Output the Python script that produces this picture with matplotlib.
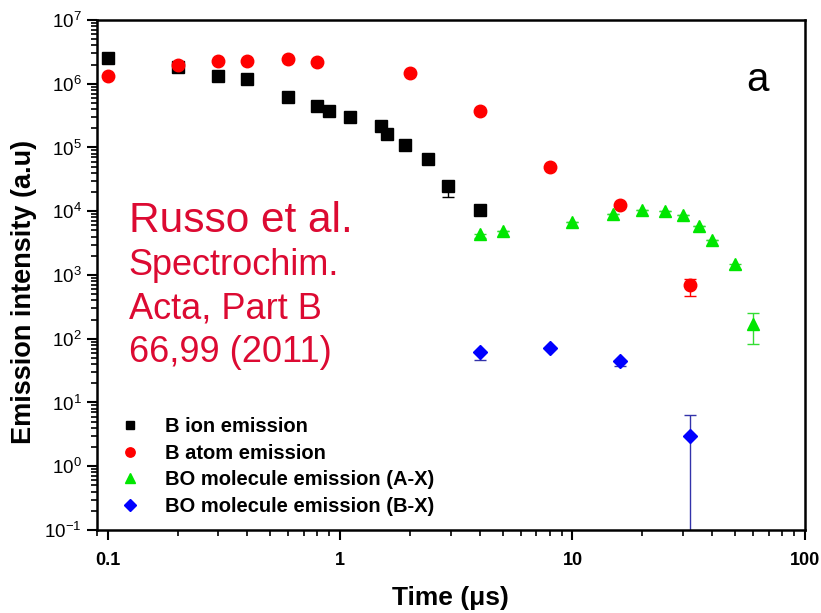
import matplotlib
matplotlib.use("Agg")
import matplotlib.pyplot as plt
from matplotlib.lines import Line2D
import numpy as np

plt.rcParams['font.family'] = ['Liberation Sans', 'DejaVu Sans']
plt.rcParams['mathtext.fontset'] = 'custom'
plt.rcParams['mathtext.rm'] = 'Liberation Sans'
plt.rcParams['mathtext.it'] = 'Liberation Sans:italic'
plt.rcParams['mathtext.bf'] = 'Liberation Sans:bold'
plt.rcParams['axes.unicode_minus'] = False

# B ion emission
ion_t = [0.1, 0.2, 0.3, 0.4, 0.6, 0.8, 0.9, 1.1, 1.5, 1.6, 1.9, 2.4, 2.9, 4.0]
ion_i = [2.5e6, 1.85e6, 1.3e6, 1.18e6, 6.3e5, 4.4e5, 3.8e5, 3.0e5, 2.15e5, 1.6e5,
         1.08e5, 6.6e4, 2.5e4, 1.05e4]
ion_lo = [0, 0, 0, 0, 0, 0, 0, 0, 0, 0, 0, 0, 8e3, 0]
ion_hi = [0, 0, 0, 0, 0, 0, 0, 0, 0, 0, 0, 0, 2e3, 0]

# B atom emission
atom_t = [0.1, 0.2, 0.3, 0.4, 0.6, 0.8, 2.0, 4.0, 8.0, 16.0, 32.0]
atom_i = [1.3e6, 2.0e6, 2.25e6, 2.3e6, 2.4e6, 2.2e6, 1.45e6, 3.7e5, 4.9e4, 1.24e4, 690]
atom_lo = [0, 0, 0, 0, 0, 0, 0, 0, 0, 0, 230]
atom_hi = [0, 0, 0, 0, 0, 0, 0, 0, 0, 0, 190]

# BO molecule emission (A-X)
ax_t = [4.0, 5.0, 10.0, 15.0, 20.0, 25.0, 30.0, 35.0, 40.0, 50.0, 60.0]
ax_i = [4.4e3, 4.9e3, 6.9e3, 9.0e3, 1.05e4, 1.0e4, 8.7e3, 5.8e3, 3.5e3, 1.47e3, 170]
ax_lo = [600, 0, 0, 0, 0, 0, 0, 0, 0, 250, 88]
ax_hi = [0, 0, 0, 0, 0, 0, 0, 0, 0, 0, 80]

# BO molecule emission (B-X)
bx_t = [4.0, 8.0, 16.0, 32.0]
bx_i = [61, 71, 44, 3.0]
bx_lo = [14, 0, 6, 2.999]
bx_hi = [0, 0, 0, 3.3]

fig = plt.figure(figsize=(8.21, 6.13), dpi=100)
ax = fig.add_axes([0.118, 0.1354, 0.8625, 0.832])

series = [
    (ion_t, ion_i, ion_lo, ion_hi, 's', '#000000', '#000000', 8, 'B ion emission'),
    (atom_t, atom_i, atom_lo, atom_hi, 'o', '#ff0000', '#ff0000', 9, 'B atom emission'),
    (ax_t, ax_i, ax_lo, ax_hi, '^', '#00e600', '#33dd33', 9, 'BO molecule emission (A-X)'),
    (bx_t, bx_i, bx_lo, bx_hi, 'D', '#0000ff', '#3333aa', 7.5, 'BO molecule emission (B-X)'),
]

handles = []
for t, y, lo, hi, mk, col, ecol, ms, lab in series:
    ax.errorbar(t, y, yerr=[lo, hi], fmt=mk, color=col, ecolor=ecol, ms=ms,
                mec=col, elinewidth=1, capsize=4, capthick=1)
    handles.append(Line2D([], [], ls='none', marker=mk, color=col, ms=ms * 0.75, label=lab))

ax.set_xscale('log')
ax.set_yscale('log')
ax.set_xlim(0.09, 100)
ax.set_ylim(1e-1, 1e7)

for side in ['left', 'bottom', 'top', 'right']:
    ax.spines[side].set_linewidth(1.8)

ax.tick_params(axis='both', which='major', direction='out', length=7, width=1.5)
ax.tick_params(axis='both', which='minor', direction='out', length=4, width=1.2)
ax.tick_params(axis='y', labelsize=13.5, pad=4)
ax.tick_params(axis='x', labelsize=13, pad=9)
ax.set_xticks([0.1, 1, 10, 100])
ax.set_xticklabels(['0.1', '1', '10', '100'], fontweight='bold')
ax.yaxis.set_major_locator(matplotlib.ticker.LogLocator(base=10, numticks=20))
ax.yaxis.set_minor_locator(matplotlib.ticker.LogLocator(base=10, subs=np.arange(2, 10), numticks=20))

ax.set_xlabel('Time (\u03bcs)', fontsize=19, fontweight='bold', labelpad=12)
ax.set_ylabel('Emission intensity (a.u)', fontsize=19.5, fontweight='bold')
ax.yaxis.set_label_coords(-0.085, 0.467)

ax.legend(handles=handles, loc='lower left', bbox_to_anchor=(0.0, -0.008), frameon=False,
          handletextpad=1.0, handlelength=1.5, labelspacing=0.38,
          prop={'weight': 'bold', 'size': 14.5})

red = '#dc0a32'
ax.text(0.045, 0.585, 'Russo et al.', transform=ax.transAxes, fontsize=30.5, color=red)
ax.text(0.045, 0.50, 'Spectrochim.', transform=ax.transAxes, fontsize=26, color=red)
ax.text(0.045, 0.415, 'Acta, Part B', transform=ax.transAxes, fontsize=26, color=red)
ax.text(0.045, 0.33, '66,99 (2011)', transform=ax.transAxes, fontsize=26, color=red)
ax.text(0.917, 0.86, 'a', transform=ax.transAxes, fontsize=29)

fig.savefig('out.png', dpi=100)
